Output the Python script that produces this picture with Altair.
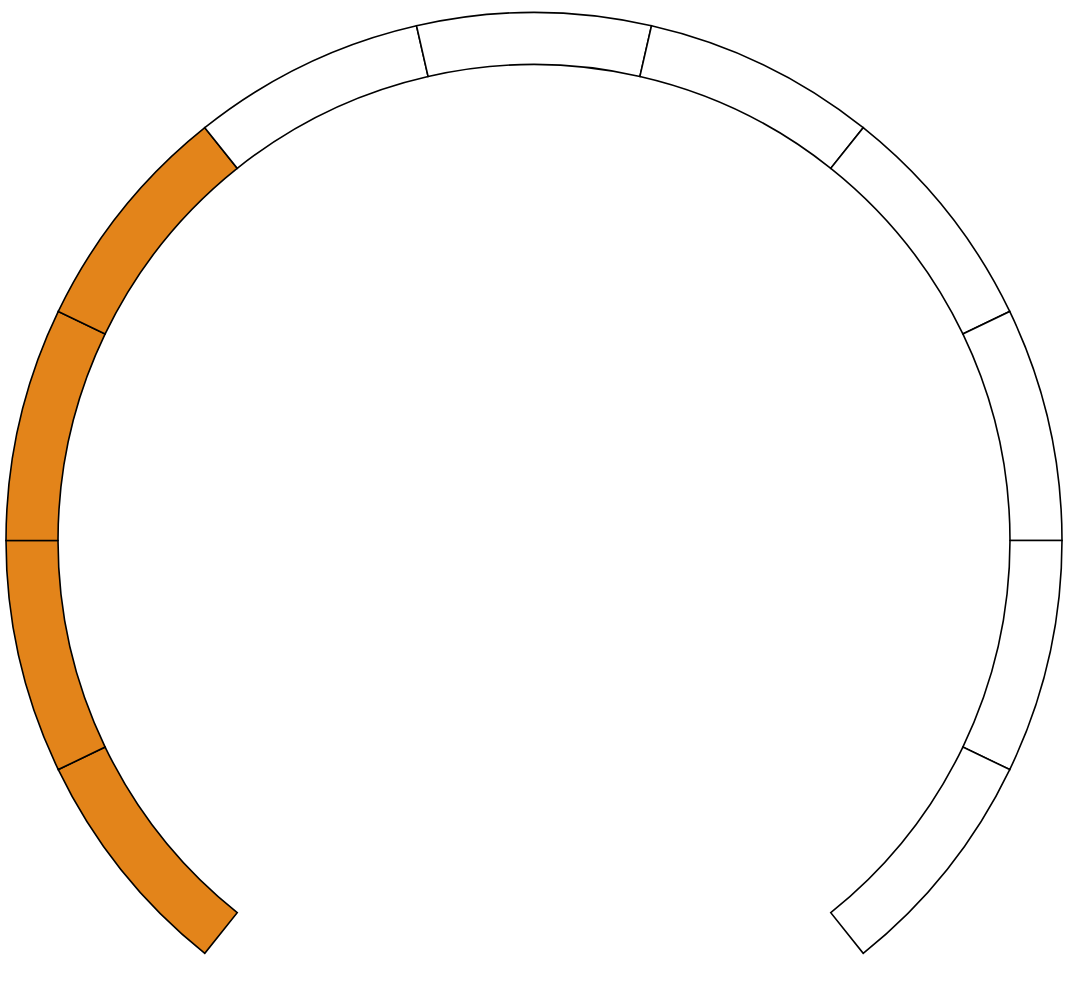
import math
import altair as alt
import pandas as pd

# gauge segments: 11 equal segments, first 4 filled
segment_start = [0, 1, 2, 3, 4, 5, 6, 7, 8, 9, 10]
segment_end = [1, 2, 3, 4, 5, 6, 7, 8, 9, 10, 11]
segment_state = ["filled"] * 4 + ["empty"] * 7

df = pd.DataFrame({"start": segment_start, "end": segment_end, "state": segment_state})

half_span = math.radians(11 * 180 / 7 / 2)

chart = alt.Chart(df).mark_arc(
    radius=528, radius2=476, stroke="black", strokeWidth=1.6
).encode(
    theta=alt.Theta("start:Q", scale=alt.Scale(domain=[0, 11], range=[-half_span, half_span])),
    theta2="end:Q",
    color=alt.Color("state:N", scale=alt.Scale(domain=["filled", "empty"], range=["#E3841A", "#FFFFFF"]), legend=None),
    x=alt.value(534),
    y=alt.value(540.5),
).properties(
    width=1071, height=982, padding=0, autosize=alt.AutoSizeParams(type="none")
).configure_view(stroke=None)

chart.save("out.html", embed_options={"renderer": "svg", "actions": False})
